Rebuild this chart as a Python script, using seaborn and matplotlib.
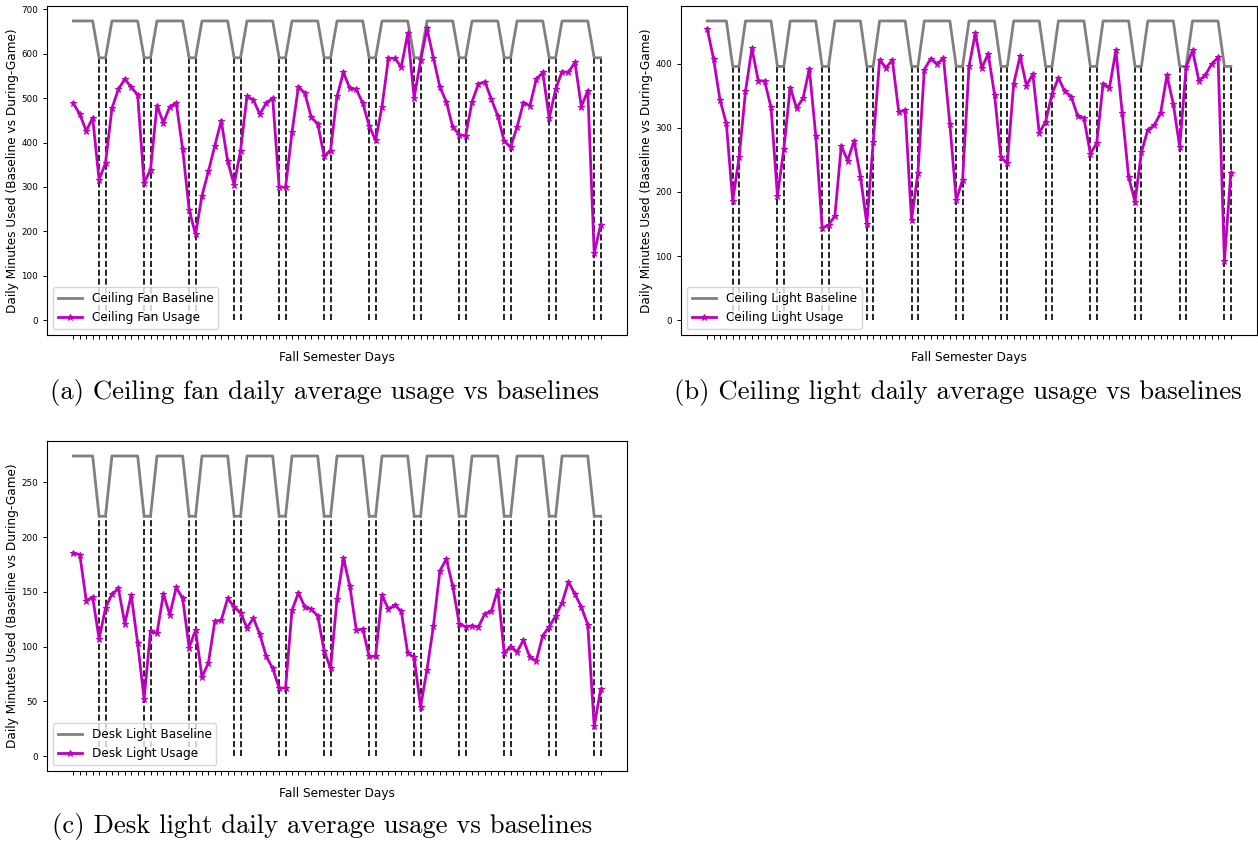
import numpy as np
import pandas as pd
import matplotlib
matplotlib.use("Agg")
import matplotlib.pyplot as plt
import seaborn as sns

# gunluk kullanim verileri (83 gun, guz donemi)
fan_usage = [488, 464, 426, 456, 316, 354, 477, 520, 543, 525,
             507, 309, 339, 483, 445, 481, 489, 385, 249, 193,
             280, 335, 393, 449, 358, 305, 382, 504, 496, 464,
             489, 500, 300, 299, 423, 526, 511, 457, 442, 370,
             382, 504, 558, 522, 520, 489, 438, 405, 481, 590,
             590, 570, 646, 501, 585, 657, 590, 525, 492, 435,
             418, 415, 492, 532, 537, 498, 460, 403, 390, 435,
             490, 483, 543, 558, 455, 520, 560, 558, 581, 481,
             517, 150, 215]

light_usage = [455, 408, 344, 307, 186, 254, 357, 424, 374, 373,
               332, 194, 267, 363, 331, 346, 392, 288, 144, 148,
               163, 272, 249, 280, 224, 150, 278, 406, 394, 406,
               325, 328, 156, 230, 391, 408, 400, 409, 306, 187,
               219, 396, 448, 393, 416, 352, 254, 245, 369, 412,
               366, 384, 292, 310, 353, 378, 357, 349, 319, 315,
               260, 276, 369, 363, 421, 323, 223, 185, 262, 297,
               304, 323, 382, 337, 270, 395, 421, 374, 382, 400,
               410, 92, 230]

desk_usage = [185, 184, 142, 145, 107, 135, 148, 153, 121, 147,
              103, 52, 114, 112, 148, 129, 154, 144, 99, 115,
              72, 85, 123, 124, 144, 136, 131, 117, 126, 111,
              91, 80, 62, 62, 133, 149, 136, 134, 128, 96,
              80, 143, 181, 155, 115, 116, 91, 91, 147, 134,
              138, 132, 94, 90, 45, 79, 119, 169, 180, 155,
              121, 118, 119, 118, 130, 132, 152, 94, 100, 95,
              106, 90, 87, 110, 118, 128, 140, 159, 148, 136,
              120, 27, 61]

# hafta sonu (mac) gunleri
game_days = [4, 5, 11, 12, 18, 19, 25, 26, 32, 33, 39, 40,
             46, 47, 53, 54, 60, 61, 67, 68, 74, 75, 81, 82]

# baseline degerleri: (hafta ici, mac gunu)
fan_base = (674, 591)
light_base = (467, 396)
desk_base = (274, 219)

panels = [
    ("Ceiling Fan", fan_usage, fan_base,
     "(a) Ceiling fan daily average usage vs baselines"),
    ("Ceiling Light", light_usage, light_base,
     "(b) Ceiling light daily average usage vs baselines"),
    ("Desk Light", desk_usage, desk_base,
     "(c) Desk light daily average usage vs baselines"),
]

W, H = 1258, 844
boxes = [(47, 6, 627, 335), (681, 6, 1257, 335), (47, 441, 627, 771)]
captions = [(324, 392), (958, 392), (322, 826)]

fig = plt.figure(figsize=(W / 100, H / 100), dpi=100)

for (name, usage, base, cap), (x0, y0, x1, y1), (cx, cy) in zip(panels, boxes, captions):
    ax = fig.add_axes([x0 / W, 1 - y1 / H, (x1 - x0) / W, (y1 - y0) / H])
    days = np.arange(len(usage))
    baseline = [base[1] if d in game_days else base[0] for d in days]
    df = pd.DataFrame({"day": days, "usage": usage, "baseline": baseline})

    ax.vlines(game_days, 0, base[1], colors="k", linestyles="--",
              linewidth=1.2, zorder=1)
    sns.lineplot(data=df, x="day", y="baseline", ax=ax, color="gray",
                 linewidth=2.0, label=name + " Baseline", zorder=2)
    sns.lineplot(data=df, x="day", y="usage", ax=ax, color="m", marker="*",
                 markersize=5, markeredgecolor="m", linewidth=2.0,
                 label=name + " Usage", zorder=3)

    ax.margins(x=0.05, y=0.05)
    ax.set_xticks(days)
    ax.set_xticklabels([])
    ax.tick_params(axis="x", length=3, width=0.7)
    ax.tick_params(axis="y", labelsize=6.3, length=3, width=0.7)
    ax.set_xlabel("Fall Semester Days", fontsize=8.7, labelpad=5)
    ax.set_ylabel("Daily Minutes Used (Baseline vs During-Game)", fontsize=8.7,
                  labelpad=1.5)
    ax.legend(loc="lower left", fontsize=8.7)

    fig.text(cx / W, 1 - cy / H, cap, fontsize=19.2, family="cmr10",
             ha="center", va="center")

plt.savefig("out.png", dpi=100)
